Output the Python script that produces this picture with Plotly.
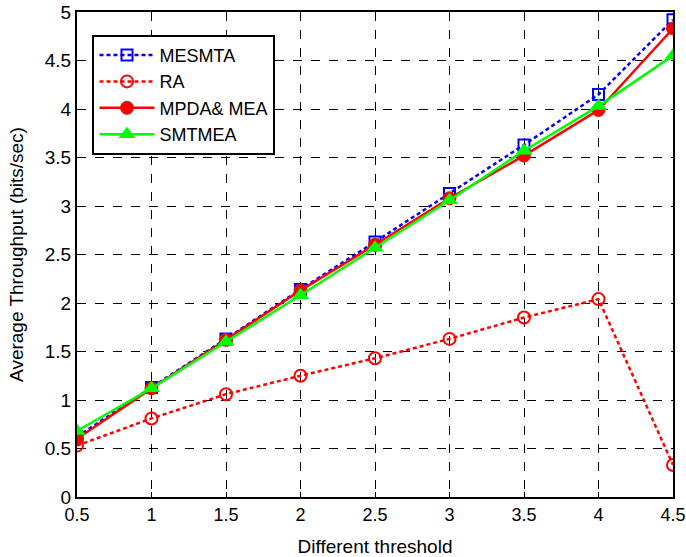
import plotly.graph_objects as go

x_vals = [0.5, 1, 1.5, 2, 2.5, 3, 3.5, 4, 4.5]
mesmta = [0.62, 1.13, 1.63, 2.14, 2.63, 3.13, 3.63, 4.15, 4.92]
ra = [0.53, 0.81, 1.06, 1.25, 1.43, 1.63, 1.85, 2.04, 0.33]
mpda = [0.60, 1.12, 1.62, 2.13, 2.60, 3.08, 3.52, 3.99, 4.83]
smtmea = [0.68, 1.12, 1.60, 2.08, 2.57, 3.06, 3.57, 4.03, 4.55]
x_ticks = [0.5, 1, 1.5, 2, 2.5, 3, 3.5, 4, 4.5]
x_ticktext = ["0.5", "1", "1.5", "2", "2.5", "3", "3.5", "4", "4.5"]
y_ticks = [0, 0.5, 1, 1.5, 2, 2.5, 3, 3.5, 4, 4.5, 5]
y_ticktext = ["0", "0.5", "1", "1.5", "2", "2.5", "3", "3.5", "4", "4.5", "5"]

FONT = "Arial, Liberation Sans, sans-serif"
DASH = "4px,3px"

fig = go.Figure()
fig.add_trace(go.Scatter(x=x_vals, y=mesmta, name="MESMTA", mode="lines+markers",
    line=dict(color="#0000ff", width=2.5, dash=DASH),
    marker=dict(symbol="square-open", size=11, color="#0000ff", line=dict(width=2))))
fig.add_trace(go.Scatter(x=x_vals, y=ra, name="RA", mode="lines+markers",
    line=dict(color="#ff0000", width=2.5, dash=DASH),
    marker=dict(symbol="circle-open", size=12, color="#ff0000", line=dict(width=2))))
fig.add_trace(go.Scatter(x=x_vals, y=mpda, name="MPDA& MEA", mode="lines+markers",
    line=dict(color="#ff0000", width=2.5),
    marker=dict(symbol="circle", size=13, color="#ff0000", line=dict(width=1, color="#cc2200"))))
fig.add_trace(go.Scatter(x=x_vals, y=smtmea, name="SMTMEA", mode="lines+markers",
    line=dict(color="#00ff00", width=2.5),
    marker=dict(symbol="triangle-up", size=15, color="#00ff00")))

axis_common = dict(
    showline=True, linecolor="black", linewidth=2, mirror=True,
    ticks="inside", ticklen=5, tickcolor="black", tickwidth=1,
    showgrid=True, gridcolor="black", griddash="dash", gridwidth=1,
    zeroline=False, automargin=False,
)
fig.update_xaxes(range=[0.5, 4.5], tickvals=x_ticks, ticktext=x_ticktext,
    tickfont=dict(family=FONT, size=18, color="black"),
    title=dict(text="Different threshold", font=dict(family=FONT, size=19, color="black"), standoff=17),
    **axis_common)
fig.update_yaxes(range=[0, 5], tickvals=y_ticks, ticktext=y_ticktext,
    tickfont=dict(family=FONT, size=19, color="black"),
    title=dict(text="Average Throughput (bits/sec)", font=dict(family=FONT, size=19, color="black"), standoff=16),
    **axis_common)

fig.update_layout(
    width=686, height=557,
    margin=dict(l=77, r=13, t=12, b=60, autoexpand=False),
    plot_bgcolor="white", paper_bgcolor="white",
    showlegend=True,
    legend=dict(x=0.026, y=0.953, xanchor="left", yanchor="top",
        bgcolor="white", bordercolor="black", borderwidth=2,
        font=dict(family=FONT, size=18, color="black"),
        itemwidth=55, tracegroupgap=0),
)

fig.write_html("out.html")
